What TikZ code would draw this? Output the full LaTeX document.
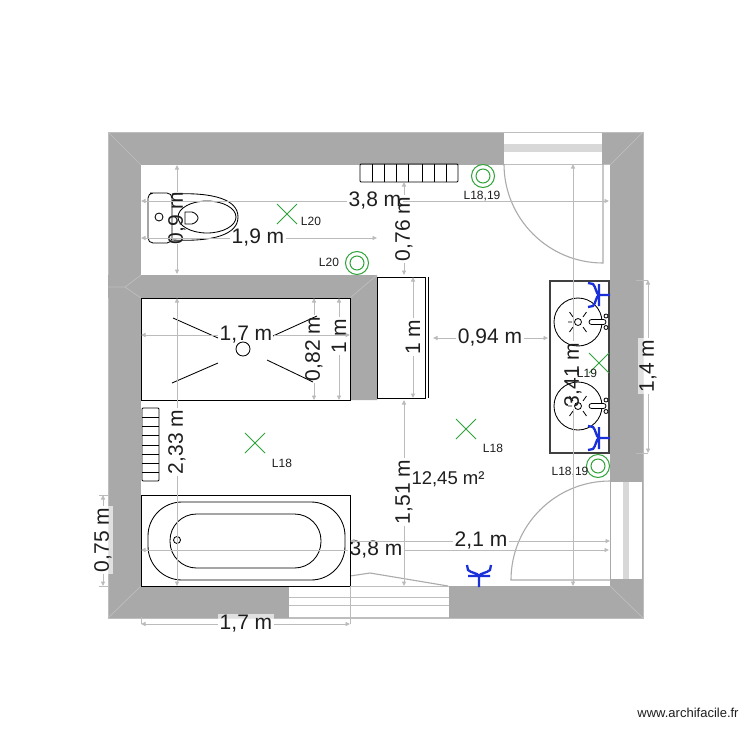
\documentclass[tikz,border=0pt]{standalone}
\usepackage{fontspec}
\setmainfont{Liberation Sans}
\usetikzlibrary{arrows.meta}
\definecolor{wallgray}{HTML}{A9A9A9}
\definecolor{mitre}{HTML}{BEBEBE}
\definecolor{bandgray}{HTML}{D8D8D8}
\definecolor{dimgray}{HTML}{BBBBBB}
\definecolor{doorgray}{HTML}{ABABAB}
\definecolor{lampgreen}{HTML}{2FA33A}
\definecolor{socketblue}{HTML}{1A30D8}
\definecolor{inkdark}{HTML}{1E1E1E}
\tikzset{
  >={Triangle[length=4.5pt,width=4pt]},
  wall/.style={fill=wallgray,draw=none},
  mitreline/.style={draw=mitre,line width=.7pt},
  doorline/.style={draw=doorgray,line width=1.1pt},
  frameline/.style={draw=mitre,line width=.9pt},
  fixture/.style={draw=black,line width=.85pt},
  dimline/.style={draw=dimgray,line width=.9pt},
  dimtext/.style={font=\fontsize{21}{21}\selectfont,text=inkdark,inner sep=1.5pt},
  dimvert/.style={dimtext,rotate=90},
  dimplate/.style={fill=white,fill opacity=.65,text opacity=1},
  tagtext/.style={font=\fontsize{12}{12}\selectfont,text=inkdark,inner sep=0pt},
  lampx/.pic={\draw[lampgreen,line width=1pt] (-10,-10) -- (10,10) (-10,10) -- (10,-10);},
  lampo/.pic={\draw[lampgreen,line width=1pt] (0,0) circle[radius=11.5] (0,0) circle[radius=7];},
  socket/.pic={\draw[socketblue,line width=2.3pt] (11,0) -- (0,0) (0,-11) -- (0,11)
     (-11,-12) -- (-6,-11) .. controls (-3,-8) and (-3,-1) .. (0,0)
     .. controls (-3,1) and (-3,8) .. (-6,11) -- (-11,12);},
  basin/.pic={
    \draw[fixture] (0,0) circle[radius=24];
    \draw[fixture,line width=.8pt] (0,0) circle[radius=3.5];
    \draw[fixture,line width=.8pt] (-5,-5) -- (-8.5,-10) (5,-5) -- (8.5,-10) (-5,5) -- (-8.5,10) (5,5) -- (8.5,10) (-6,0) -- (-10,0);
    \draw[fixture,fill=white,line width=.8pt,rounded corners=2.5pt] (11,-2.5) rectangle (28,2.5);
    \draw[fixture,fill=white,line width=.8pt] (28,-6) circle[radius=2] (28,5.5) circle[radius=2];
  },
}
\begin{document}
\begin{tikzpicture}[x=1pt,y=-1pt]
\useasboundingbox[fill=white] (0,0) rectangle (750,750);

% walls
\fill[wall] (108,132) rectangle (643,618);
\draw[mitre,line width=.8pt] (108,132) rectangle (643,618);
\fill[white] (141,165) rectangle (610,586);
\fill[wall] (141,275) -- (377,275) -- (377,400) -- (350,400) -- (350,298) -- (141,298) -- cycle;
\fill[wall] (108,275) rectangle (141,298);
% wall mitres
\draw[mitreline] (108,132) -- (141,165) (643,132) -- (610,165) (643,618) -- (610,586) (108,618) -- (141,586);
\draw[mitreline] (108,287) -- (125,287) -- (141,275) (125,287) -- (141,298) (350,298) -- (377,275);

% top door
\fill[white] (504,133) rectangle (602,164);
\fill[bandgray] (504,144) rectangle (602,152);
\draw[frameline] (504,164) -- (610,164);
\draw[doorline] (504,164) arc[start angle=180,end angle=90,radius=99] -- (603,164);
% right door
\fill[white] (611,482) rectangle (642,579);
\fill[bandgray] (623,482) rectangle (629,579);
\draw[doorline] (610,481) arc[start angle=270,end angle=180,radius=99] -- (610,580);
% bottom opening
\fill[white] (289,586) rectangle (449,618);
\draw[frameline] (289,586.5) -- (449,586.5) (289,597) -- (449,597) (289,605.5) -- (449,605.5) (289,617.5) -- (449,617.5);
\draw[doorline] (350,576) -- (370,573) -- (448,586);

% shower
\draw[fixture] (141,298) rectangle (350,400);
\draw[fixture] (243,349) circle[radius=7];
\draw[fixture] (173,318) -- (218,338) (317,316) -- (273,336) (172,383) -- (218,363) (267,360) -- (313,382);
% cabinet
\draw[fixture] (377,277) rectangle (425,398);
\draw[fixture] (428,277) -- (428,398);
% bath
\draw[fixture] (141,495) rectangle (350,586);
\draw[fixture] (148,502) [rounded corners=34pt] -- (148,580) -- (345,580) -- (345,502) -- cycle;
\draw[fixture] (170,541) [rounded corners=26.5pt] (170,514) -- (170,568) -- (321,568) -- (321,514) -- cycle;
\draw[fixture] (177,540) circle[radius=3.5];
% radiators
\draw[fixture,rounded corners=1pt] (360,164) rectangle (458,182);
\foreach \x in {372,384,396,408,422,434,446} \draw[fixture] (\x,164) -- (\x,182);
\draw[fixture,rounded corners=1pt] (142,408) rectangle (159,481);
\foreach \y in {417,426,435,445,454,463,472} \draw[fixture,line width=.7pt] (142,\y) -- (159,\y);
% toilet
\draw[fixture,rounded corners=5pt] (172,193) -- (155,193) -- (148,193) -- (148,243) -- (172,243) -- cycle;
\draw[fixture] (159,217) circle[radius=4];
\draw[fixture] (172,194) .. controls (215,192) and (238,200) .. (238,217) .. controls (238,234) and (215,242) .. (172,240);
\draw[fixture] (207,217) ellipse[x radius=29,y radius=16];
\draw[fixture] (185,212) -- (192,212) .. controls (196,213) and (198,216) .. (198,218) .. controls (198,220) and (196,223) .. (192,224) -- (185,224) -- cycle;
% sink
\draw[draw=black!75,line width=1.2pt] (550,281) rectangle (609,453);
\pic at (578,322) {basin};
\pic at (578,406) {basin};

% lamps
\pic at (287,214) {lampx};
\pic at (255,443) {lampx};
\pic at (466,429) {lampx};
\pic at (599,363) {lampx};
\pic at (483,176) {lampo};
\pic at (357,263) {lampo};
\pic at (598,466) {lampo};
% sockets
\pic at (599,295) {socket};
\pic at (599,438) {socket};
\pic[rotate=-90] at (479,576) {socket};

% tags
\node[tagtext] (tagA) at (482,196) {L18,19};
\node[tagtext] (tagB) at (329,262) {L20};
\node[tagtext] (tagC) at (311,221) {L20};
\node[tagtext] (tagD) at (282,463) {L18};
\node[tagtext] (tagE) at (493,448) {L18};
\node[tagtext] (tagF) at (587,373) {L19};
\node[tagtext] (tagG) at (570,472) {L18,19};

% dimension labels
\node[dimtext] (dTop) at (375,201) {3,8 m};
\node[dimtext] (dWc) at (258,238) {1,9 m};
\node[dimvert,inner sep=0pt] (dNine) at (177,218) {0,9 m};
\node[dimvert] (dSeven) at (404,229) {0,76 m};
\node[dimtext] (dShower) at (246,335) {1,7 m};
\node[dimvert] (dTwo) at (177,442) {2,33 m};
\node[dimvert] (dEight) at (314,349) {0,82 m};
\node[dimvert] (dOneA) at (339,336) {1 m};
\node[dimvert] (dOneB) at (413,337) {1 m};
\node[dimtext] (dNineFour) at (490,338) {0,94 m};
\node[dimvert] (dThree) at (573,375) {3,41 m};
\node[dimvert,dimplate,minimum height=20pt] (dOneFour) at (648,366) {1,4 m};
\node[dimvert] (dOneFive) at (404,492) {1,51 m};
\node[dimtext,inner sep=0pt,font=\fontsize{18.5}{18.5}\selectfont] (dArea) at (448,479) {12,45 m²};
\node[dimtext] (dTwoOne) at (481,541) {2,1 m};
\node[dimtext] (dBot) at (376,550) {3,8 m};
\node[dimvert,dimplate,minimum height=20pt] (dSevenFive) at (103,540) {0,75 m};
\node[dimtext,dimplate] (dOutside) at (246,624) {1,7 m};

% dimension lines
\draw[dimline,<-] (141,201) -- (dTop);
\draw[dimline,->] (dTop) -- (609,201);
\draw[dimline,<-] (141,238) -- (dWc);
\draw[dimline,->] (dWc) -- (377,238);
\draw[dimline,<-] (177,165) -- (dNine);
\draw[dimline,->] (dNine) -- (177,274);
\draw[dimline,<-] (404,182) -- (dSeven);
\draw[dimline,->] (dSeven) -- (404,275);
\draw[dimline,<-] (141,335) -- (dShower);
\draw[dimline,->] (dShower) -- (350,335);
\draw[dimline,<-] (177,298) -- (dTwo);
\draw[dimline,->] (dTwo) -- (177,586);
\draw[dimline,<-] (314,298) -- (dEight);
\draw[dimline,->] (dEight) -- (314,400);
\draw[dimline,<-] (339,298) -- (dOneA);
\draw[dimline,->] (dOneA) -- (339,400);
\draw[dimline,<-] (413,277) -- (dOneB);
\draw[dimline,->] (dOneB) -- (413,398);
\draw[dimline,<-] (433,338) -- (dNineFour);
\draw[dimline,->] (dNineFour) -- (548,338);
\draw[dimline,<-] (573,164) -- (dThree);
\draw[dimline,->] (dThree) -- (573,586);
\draw[dimline,<-] (648,280) -- (dOneFour);
\draw[dimline,->] (dOneFour) -- (648,453);
\draw[dimline] (636,280) -- (648,280) (636,453) -- (648,453);
\draw[dimline,<-] (404,400) -- (dOneFive);
\draw[dimline,->] (dOneFive) -- (404,586);
\draw[dimline,<-] (350,541) -- (dTwoOne);
\draw[dimline,->] (dTwoOne) -- (610,541);
\draw[dimline,<-] (141,550) -- (dBot);
\draw[dimline,->] (dBot) -- (609,550);
\draw[dimline,<-] (103,495) -- (dSevenFive);
\draw[dimline,->] (dSevenFive) -- (103,586);
\draw[dimline] (99,495) -- (108,495) (99,586) -- (108,586);
\draw[dimline,<-] (141,624) -- (dOutside);
\draw[dimline,->] (dOutside) -- (350,624);
\draw[dimline] (141,617) -- (141,624) (350,586) -- (350,624);

\node[font=\fontsize{13}{13}\selectfont,text=inkdark,inner sep=0pt] (mark) at (688,713) {www.archifacile.fr};
\end{tikzpicture}
\end{document}
